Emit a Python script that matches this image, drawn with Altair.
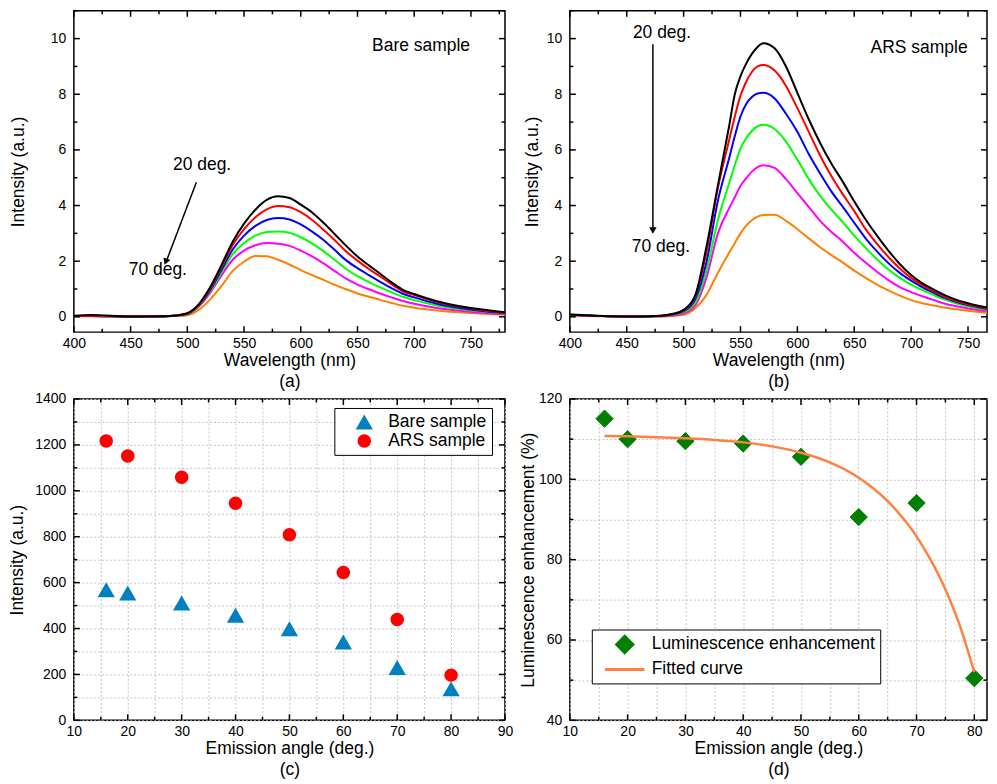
import altair as alt
import pandas as pd

FONT = "Liberation Sans"
TFS = 17.5   # title / annotation font size
LFS = 14     # tick label font size
PH = 322     # plot height of every panel

# ---------------- (a) Bare sample spectra ----------------
series = ["20 deg.", "30 deg.", "40 deg.", "50 deg.", "60 deg.", "70 deg."]
spec_colors = ["#000000", "#ff0000", "#0000ff", "#00ff00", "#ff00ff", "#ff8000"]

wl_a = [400, 415, 450, 480, 490, 500, 510, 520, 530, 540, 550, 560, 570, 580, 590,
        600, 610, 620, 630, 640, 650, 660, 670, 680, 690, 700, 720, 740, 760, 780]
bare_20 = [0.04, 0.07, 0.01, 0.02, 0.05, 0.13, 0.45, 1.05, 1.85, 2.70, 3.35, 3.85, 4.20, 4.33, 4.27,
           4.03, 3.75, 3.38, 2.97, 2.55, 2.17, 1.85, 1.55, 1.24, 0.97, 0.82, 0.56, 0.38, 0.26, 0.16]
bare_30 = [0.03, 0.04, 0.01, 0.02, 0.05, 0.12, 0.43, 1.00, 1.78, 2.58, 3.15, 3.58, 3.86, 3.98, 3.94,
           3.76, 3.48, 3.13, 2.75, 2.35, 2.02, 1.72, 1.45, 1.17, 0.92, 0.78, 0.53, 0.36, 0.24, 0.15]
bare_40 = [0.03, 0.03, 0.01, 0.02, 0.05, 0.11, 0.41, 0.95, 1.68, 2.42, 2.92, 3.27, 3.48, 3.55, 3.50,
           3.32, 3.06, 2.76, 2.40, 2.03, 1.75, 1.50, 1.26, 1.03, 0.83, 0.70, 0.47, 0.32, 0.21, 0.13]
bare_50 = [0.03, 0.03, 0.01, 0.02, 0.04, 0.10, 0.39, 0.90, 1.58, 2.25, 2.65, 2.92, 3.05, 3.07, 3.02,
           2.86, 2.64, 2.36, 2.04, 1.72, 1.46, 1.25, 1.06, 0.88, 0.72, 0.60, 0.41, 0.28, 0.19, 0.12]
bare_60 = [0.03, 0.03, 0.01, 0.02, 0.04, 0.09, 0.36, 0.85, 1.48, 2.05, 2.38, 2.57, 2.65, 2.63, 2.55,
           2.38, 2.17, 1.92, 1.64, 1.37, 1.16, 0.99, 0.84, 0.70, 0.57, 0.47, 0.32, 0.22, 0.15, 0.10]
bare_70 = [0.02, 0.02, 0.00, 0.01, 0.03, 0.06, 0.25, 0.62, 1.10, 1.65, 1.98, 2.19, 2.18, 2.05, 1.88,
           1.68, 1.50, 1.33, 1.15, 0.99, 0.84, 0.72, 0.61, 0.50, 0.40, 0.33, 0.23, 0.16, 0.11, 0.07]

# ---------------- (b) ARS sample spectra ----------------
wl_b = [400, 450, 480, 490, 500, 510, 520, 530, 540, 545, 550, 555, 560, 565, 570, 580, 590, 600, 610,
        620, 630, 640, 650, 660, 670, 680, 690, 700, 710, 720, 730, 740, 750, 760, 774]
ars_20 = [0.08, 0.01, 0.04, 0.10, 0.25, 0.75, 2.50, 4.70, 6.85, 8.00, 8.65, 9.10, 9.45, 9.70, 9.83,
          9.65, 9.00, 8.05, 7.10, 6.25, 5.50, 4.85, 4.15, 3.50, 2.92, 2.38, 1.90, 1.50, 1.20, 0.98,
          0.77, 0.61, 0.49, 0.39, 0.28]
ars_30 = [0.07, 0.01, 0.04, 0.09, 0.23, 0.72, 2.30, 4.60, 6.35, 7.20, 7.95, 8.45, 8.80, 9.00, 9.05,
          8.85, 8.30, 7.50, 6.65, 5.80, 5.05, 4.40, 3.80, 3.15, 2.62, 2.15, 1.74, 1.40, 1.13, 0.92,
          0.71, 0.57, 0.45, 0.36, 0.26]
ars_40 = [0.07, 0.01, 0.03, 0.08, 0.20, 0.62, 1.95, 4.15, 5.70, 6.50, 7.20, 7.65, 7.90, 8.03, 8.05,
          7.85, 7.30, 6.65, 5.85, 5.15, 4.50, 3.95, 3.38, 2.82, 2.35, 1.93, 1.58, 1.30, 1.06, 0.86,
          0.67, 0.53, 0.42, 0.33, 0.24]
ars_50 = [0.09, 0.01, 0.03, 0.07, 0.17, 0.50, 1.65, 3.45, 4.80, 5.45, 6.05, 6.42, 6.68, 6.85, 6.90,
          6.75, 6.30, 5.65, 4.95, 4.35, 3.85, 3.40, 2.92, 2.48, 2.07, 1.70, 1.40, 1.16, 0.96, 0.78,
          0.61, 0.48, 0.38, 0.30, 0.22]
ars_60 = [0.07, 0.01, 0.02, 0.05, 0.12, 0.40, 1.40, 2.98, 3.90, 4.30, 4.70, 4.98, 5.22, 5.38, 5.45,
          5.35, 4.95, 4.45, 3.95, 3.45, 3.05, 2.70, 2.30, 1.95, 1.62, 1.32, 1.07, 0.89, 0.74, 0.60,
          0.47, 0.38, 0.30, 0.24, 0.18]
ars_70 = [0.05, 0.01, 0.01, 0.03, 0.07, 0.30, 0.78, 1.57, 2.30, 2.65, 3.00, 3.28, 3.47, 3.60, 3.66,
          3.67, 3.45, 3.15, 2.82, 2.50, 2.22, 1.95, 1.66, 1.40, 1.16, 0.95, 0.76, 0.60, 0.49, 0.41,
          0.33, 0.27, 0.22, 0.17, 0.12]

# ---------------- (c) integrated intensity ----------------
angles = [16, 20, 30, 40, 50, 60, 70, 80]
samples = ["Bare sample", "ARS sample"]
bare_int = [569, 555, 511, 458, 399, 341, 230, 137]
ars_int = [1217, 1152, 1059, 946, 809, 644, 439, 197]

# ---------------- (d) enhancement ----------------
items = ["Luminescence enhancement", "Fitted curve"]
enh = [115.1, 110.0, 109.5, 108.9, 105.6, 90.6, 94.1, 50.5]
fit_angle = [16, 20, 25, 30, 35, 40, 45, 50, 55, 60, 62.5, 65, 67.5, 70, 72.5, 75, 77.5, 80]
fit_val = [110.8, 110.7, 110.5, 110.2, 109.8, 109.2, 108.2, 106.6, 104.2, 100.4, 97.8, 94.6,
           90.6, 85.8, 79.8, 72.6, 63.6, 52.0]

# annotations (data coordinates)
ann_a = pd.DataFrame({"x": [706, 513, 474], "y": [9.75, 5.45, 1.68],
                      "t": ["Bare sample", "20 deg.", "70 deg."]})
ann_b = pd.DataFrame({"x": [707, 481, 480], "y": [9.65, 10.2, 2.51],
                      "t": ["ARS sample", "20 deg.", "70 deg."]})
arrow_a = pd.DataFrame({"x": [508, 482], "y": [4.84, 2.05]})
head_a = pd.DataFrame({"x": [481], "y": [1.98], "ang": [201]})
arrow_b = pd.DataFrame({"x": [473, 473], "y": [9.8, 3.2]})
head_b = pd.DataFrame({"x": [473], "y": [3.1], "ang": [180]})


def main_x(vals, step, title, grid):
    return alt.Axis(orient="bottom", values=vals,
                    labelExpr=f"datum.value % {step} === 0 ? datum.value : ''",
                    ticks=False, tickSize=0, domain=False, grid=grid, gridDash=[2, 2],
                    gridColor="#c4c4c4", gridWidth=1, labelPadding=4, labelFontSize=LFS,
                    labelFlush=False, labelOverlap=False, title=title, titleFontSize=TFS,
                    titleFontWeight="normal", titlePadding=1, titleLineHeight=21)


def main_y(vals, step, title, grid, tpad):
    return alt.Axis(orient="left", values=vals,
                    labelExpr=f"datum.value % {step} === 0 ? datum.value : ''",
                    ticks=False, tickSize=0, domain=False, grid=grid, gridDash=[2, 2],
                    gridColor="#c4c4c4", gridWidth=1, labelPadding=8, labelFontSize=LFS,
                    labelFlush=False, labelOverlap=False, title=title, titleFontSize=TFS,
                    titleFontWeight="normal", titlePadding=tpad)


def edge_ticks(xs, ys, xvals, yvals, xstep, ystep, W, H):
    """Inward major / minor tick marks on all four sides of the frame."""
    xmaj = [v for v in xvals if v % xstep == 0]
    xmin = [v for v in xvals if v % xstep != 0]
    ymaj = [v for v in yvals if v % ystep == 0]
    ymin = [v for v in yvals if v % ystep != 0]
    out = []
    for vx, vy, L in [(xmaj, ymaj, 6), (xmin, ymin, 3.5)]:
        bx = alt.Chart(pd.DataFrame({"v": vx})).mark_rule(color="black", strokeWidth=1.5)
        by = alt.Chart(pd.DataFrame({"v": vy})).mark_rule(color="black", strokeWidth=1.5)
        X = alt.X("v:Q", scale=xs, axis=None)
        Y = alt.Y("v:Q", scale=ys, axis=None)
        out.append(bx.encode(x=X, y=alt.value(H), y2=alt.value(H - L)))
        out.append(bx.encode(x=X, y=alt.value(0), y2=alt.value(L)))
        out.append(by.encode(y=Y, x=alt.value(0), x2=alt.value(L)))
        out.append(by.encode(y=Y, x=alt.value(W), x2=alt.value(W - L)))
    return out


def spectra_panel(wl, curves, W, xmax, tag, ann, arrow, head, tpad):
    rows = []
    for name, vals in reversed(list(zip(series, curves))):
        for w, v in zip(wl, vals):
            rows.append({"wl": w, "I": v, "angle": name})
    df = pd.DataFrame(rows)
    xs = alt.Scale(domain=[400, xmax], nice=False, zero=False)
    ys = alt.Scale(domain=[-0.55, 11], nice=False, zero=False)
    xvals = [v for v in range(400, 800, 25) if v < xmax]
    yvals = list(range(0, 12))
    xmaj = [v for v in xvals if v % 50 == 0]
    ymaj = [v for v in yvals if v % 2 == 0]
    lines = alt.Chart(df).mark_line(strokeWidth=2, interpolate="monotone", clip=True).encode(
        x=alt.X("wl:Q", scale=xs, axis=main_x(xmaj, 50, ["Wavelength (nm)", tag], False)),
        y=alt.Y("I:Q", scale=ys, axis=main_y(ymaj, 2, "Intensity (a.u.)", False, tpad)),
        color=alt.Color("angle:N", scale=alt.Scale(domain=series, range=spec_colors), legend=None),
        detail="angle:N",
    )
    txt = alt.Chart(ann).mark_text(font=FONT, fontSize=TFS, color="black").encode(
        x=alt.X("x:Q", scale=xs, axis=None), y=alt.Y("y:Q", scale=ys, axis=None), text="t:N")
    arr = alt.Chart(arrow).mark_line(color="black", strokeWidth=1.5).encode(
        x=alt.X("x:Q", scale=xs, axis=None), y=alt.Y("y:Q", scale=ys, axis=None))
    hd = alt.Chart(head).mark_point(shape="triangle-up", filled=True, color="black", size=55, opacity=1).encode(
        x=alt.X("x:Q", scale=xs, axis=None), y=alt.Y("y:Q", scale=ys, axis=None),
        angle=alt.Angle("ang:Q", scale=None))
    ticks = edge_ticks(xs, ys, xvals, yvals, 50, 2, W, PH)
    return alt.layer(lines, txt, arr, hd, *ticks).resolve_axis(
        x="independent", y="independent").properties(width=W, height=PH)


panel_a = spectra_panel(wl_a, [bare_20, bare_30, bare_40, bare_50, bare_60, bare_70],
                        432, 780, "(a)", ann_a, arrow_a, head_a, 23)
panel_b = spectra_panel(wl_b, [ars_20, ars_30, ars_40, ars_50, ars_60, ars_70],
                        418, 766.7, "(b)", ann_b, arrow_b, head_b, 5)

# ---------------- panel (c) ----------------
circle_path = "M0.78,0A0.78,0.78 0 1,1 -0.78,0A0.78,0.78 0 1,1 0.78,0Z"
df_c = pd.DataFrame({
    "angle": angles + angles,
    "I": bare_int + ars_int,
    "sample": [samples[0]] * len(angles) + [samples[1]] * len(angles),
})
xs_c = alt.Scale(domain=[10, 90], nice=False, zero=False)
ys_c = alt.Scale(domain=[0, 1400], nice=False, zero=False)
xv_c = list(range(10, 95, 5))
yv_c = list(range(0, 1500, 100))
leg_c = alt.Legend(orient="none", legendX=261, legendY=9, title=None, strokeColor="black",
                   fillColor="white", padding=5, cornerRadius=0, labelFontSize=TFS, labelFont=FONT,
                   symbolSize=300, rowPadding=1, labelOffset=15, symbolOffset=16, symbolStrokeWidth=0,
                   labelLimit=400)
pts_c = alt.Chart(df_c).mark_point(filled=True, opacity=1, size=300).encode(
    x=alt.X("angle:Q", scale=xs_c, axis=main_x(xv_c, 10, ["Emission angle (deg.)", "(c)"], True)),
    y=alt.Y("I:Q", scale=ys_c, axis=main_y(yv_c, 200, "Intensity (a.u.)", True, 8)),
    color=alt.Color("sample:N", scale=alt.Scale(domain=samples, range=["#0080c0", "#ff0000"]), legend=leg_c),
    shape=alt.Shape("sample:N", scale=alt.Scale(domain=samples, range=["triangle-up", circle_path]), legend=leg_c),
)
panel_c = alt.layer(pts_c, *edge_ticks(xs_c, ys_c, xv_c, yv_c, 10, 200, 432, PH)).resolve_axis(
    x="independent", y="independent").properties(width=432, height=PH)

# ---------------- panel (d) ----------------
line_path = "M-2.45,0L2.45,0"
df_d = pd.DataFrame({"angle": angles, "E": enh, "item": [items[0]] * len(angles)})
df_fit = pd.DataFrame({"angle": fit_angle, "E": fit_val})
xs_d = alt.Scale(domain=[10, 82.2], nice=False, zero=False)
ys_d = alt.Scale(domain=[40, 120], nice=False, zero=False)
xv_d = list(range(10, 85, 5))
yv_d = list(range(40, 125, 10))
leg_d = alt.Legend(orient="none", legendX=22, legendY=231, title=None, strokeColor="black",
                   fillColor="white", padding=5, cornerRadius=0, labelFontSize=TFS, labelFont=FONT,
                   symbolSize=260, symbolStrokeWidth=3, rowPadding=-3, labelOffset=17, symbolOffset=18,
                   labelLimit=400)
pts_d = alt.Chart(df_d).mark_point(filled=True, opacity=1, size=300, strokeWidth=1).encode(
    x=alt.X("angle:Q", scale=xs_d, axis=main_x(xv_d, 10, ["Emission angle (deg.)", "(d)"], True)),
    y=alt.Y("E:Q", scale=ys_d, axis=main_y(yv_d, 20, "Luminescence enhancement (%)", True, 1)),
    fill=alt.Fill("item:N", scale=alt.Scale(domain=items, range=["#008000", "#ff8040"]), legend=leg_d),
    stroke=alt.Stroke("item:N", scale=alt.Scale(domain=items, range=["#008000", "#ff8040"]), legend=leg_d),
    shape=alt.Shape("item:N", scale=alt.Scale(domain=items, range=["diamond", line_path]), legend=leg_d),
)
fit_d = alt.Chart(df_fit).mark_line(color="#ff8040", strokeWidth=2.5, interpolate="monotone").encode(
    x=alt.X("angle:Q", scale=xs_d, axis=None), y=alt.Y("E:Q", scale=ys_d, axis=None))
panel_d = alt.layer(pts_d, fit_d, *edge_ticks(xs_d, ys_d, xv_d, yv_d, 10, 20, 418, PH)).resolve_axis(
    x="independent", y="independent").properties(width=418, height=PH)

indep = dict(color="independent", shape="independent", fill="independent", stroke="independent")
row1 = alt.hconcat(panel_a, panel_b, spacing=15).resolve_scale(**indep)
row2 = alt.hconcat(panel_c, panel_d, spacing=4).resolve_scale(**indep)
chart = alt.vconcat(row1, row2, spacing=0).resolve_scale(**indep).properties(
    padding={"left": 0, "top": 0, "right": 0, "bottom": 0}
).configure(font=FONT).configure_view(stroke="black", strokeWidth=1.5).configure_axis(
    labelFont=FONT, titleFont=FONT, labelColor="black", titleColor="black"
).configure_legend(labelFont=FONT, labelColor="black")

chart.save("out.html", embed_options={"renderer": "svg", "actions": False})
